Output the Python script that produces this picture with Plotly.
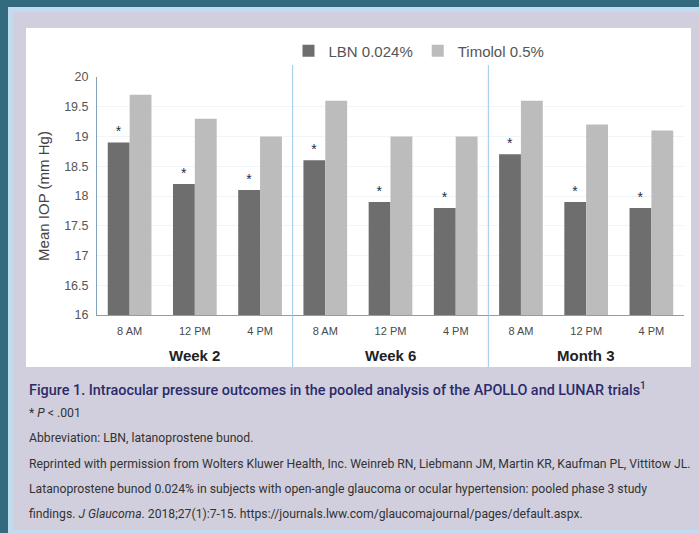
import plotly.graph_objects as go

# ---------------- data ----------------
groups = ["Week 2", "Week 6", "Month 3"]
times = ["8 AM", "12 PM", "4 PM"]
lbn = [18.9, 18.2, 18.1, 18.6, 17.9, 17.8, 18.7, 17.9, 17.8]
timolol = [19.7, 19.3, 19.0, 19.6, 19.0, 19.0, 19.6, 19.2, 19.1]
lbn_sig = ["*", "*", "*", "*", "*", "*", "*", "*", "*"]
series_names = ["LBN 0.024%", "Timolol 0.5%"]
y_title = "Mean IOP (mm Hg)"

caption_title = ("Figure 1. Intraocular pressure outcomes in the pooled analysis "
                 "of the APOLLO and LUNAR trials<sup>1</sup>")
caption_lines = [
    "* <i>P</i> &lt; .001",
    "Abbreviation: LBN, latanoprostene bunod.",
    "Reprinted with permission from Wolters Kluwer Health, Inc. Weinreb RN, Liebmann JM, "
    "Martin KR, Kaufman PL, Vittitow JL.",
    "Latanoprostene bunod 0.024% in subjects with open-angle glaucoma or ocular "
    "hypertension: pooled phase 3 study",
    "findings. <i>J Glaucoma</i>. 2018;27(1):7-15. "
    "https://journals.lww.com/glaucomajournal/pages/default.aspx.",
]

keys = [f"{g} {t}" for g in groups for t in times]
tick_text = [t for g in groups for t in times]

# ---------------- layout geometry (pixels) ----------------
W, H = 699, 533
L, R, T, B = 97, 684, 77, 315


def px_x(px):
    return (px - L) / (R - L)


def px_y(py):
    return (B - py) / (B - T)


NARROW = "Roboto, Liberation Sans, sans-serif"
SANS = "Liberation Sans, Arial, sans-serif"

fig = go.Figure()
fig.add_trace(go.Bar(
    x=keys, y=lbn, name=series_names[0], marker_color="#6e6e6e",
    marker_line_width=0,
    text=lbn_sig, textposition="outside", cliponaxis=False,
    textfont=dict(color="#1e2d4a", size=14, family=SANS),
))
fig.add_trace(go.Bar(
    x=keys, y=timolol, name=series_names[1], marker_color="#bcbcbc",
    marker_line_width=0,
))

shapes = [
    dict(type="rect", xref="paper", yref="paper", layer="below",
         x0=px_x(8), x1=px_x(W + 2), y0=px_y(7), y1=px_y(H + 2),
         fillcolor="#c3dbee", line_width=0),
    dict(type="rect", xref="paper", yref="paper", layer="below",
         x0=px_x(13), x1=px_x(W + 2), y0=px_y(12), y1=px_y(530),
         fillcolor="#d1cfdd", line_width=0),
    dict(type="rect", xref="paper", yref="paper", layer="below",
         x0=px_x(26), x1=px_x(691), y0=px_y(28), y1=px_y(367),
         fillcolor="#ffffff", line_width=0),
]
for i in range(1, len(groups)):
    xpos = i * len(times) - 0.5
    shapes.append(dict(type="line", xref="x", yref="paper", layer="above",
                       x0=xpos, x1=xpos, y0=px_y(367), y1=px_y(65),
                       line=dict(color="#98c8e8", width=1)))

annotations = []
for gi, g in enumerate(groups):
    annotations.append(dict(
        x=gi * len(times) + (len(times) - 1) / 2, xref="x",
        y=px_y(355), yref="paper", text=f"<b>{g}</b>", showarrow=False,
        font=dict(size=15, color="#222222", family=SANS),
        xanchor="center", yanchor="middle"))

annotations.append(dict(
    x=px_x(27), xref="paper", y=px_y(389), yref="paper", text=caption_title,
    showarrow=False, xanchor="left", yanchor="middle",
    font=dict(size=14.4, color="#2b2b6b", family=NARROW, weight=500)))
line_y = [413, 438, 464, 489, 514]
for yy, txt in zip(line_y, caption_lines):
    annotations.append(dict(
        x=px_x(27), xref="paper", y=px_y(yy), yref="paper", text=txt,
        showarrow=False, xanchor="left", yanchor="middle",
        font=dict(size=12.2, color="#333333", family=NARROW)))

fig.update_layout(
    width=W, height=H, autosize=False,
    margin=dict(l=L, r=W - R, t=T, b=H - B, pad=0),
    paper_bgcolor="#336a80", plot_bgcolor="rgba(0,0,0,0)",
    barmode="group", bargap=0.33, bargroupgap=0,
    showlegend=True,
    legend=dict(orientation="h", x=px_x(419), xanchor="center",
                y=px_y(51), yanchor="middle",
                font=dict(size=15, color="#555555", family=SANS),
                bgcolor="rgba(0,0,0,0)", itemwidth=30, tracegroupgap=0),
    shapes=shapes, annotations=annotations,
    font=dict(family=SANS),
)
fig.update_xaxes(
    type="category", categoryorder="array", categoryarray=keys,
    tickvals=keys, ticktext=tick_text,
    tickfont=dict(size=11, color="#4a4a4a", family=SANS),
    ticks="outside", ticklen=6, tickcolor="rgba(0,0,0,0)",
    showline=True, linecolor="#7fa3b8", linewidth=1,
    showgrid=False, zeroline=False, range=[-0.5, len(keys) - 0.5],
)
fig.update_yaxes(
    range=[16, 20], dtick=0.5, tick0=16,
    tickfont=dict(size=12.5, color="#555555", family=SANS),
    ticks="outside", ticklen=5, tickcolor="rgba(0,0,0,0)",
    showline=True, linecolor="#7fa3b8", linewidth=1,
    showgrid=True, gridcolor="#f1f4f8", gridwidth=1, zeroline=False,
    title=dict(text=y_title, font=dict(size=15, color="#444444", family=SANS),
               standoff=10),
)

fig.write_html("out.html",
               config={"displayModeBar": False},
               post_script="document.body.style.margin='0';document.body.style.padding='0';")
